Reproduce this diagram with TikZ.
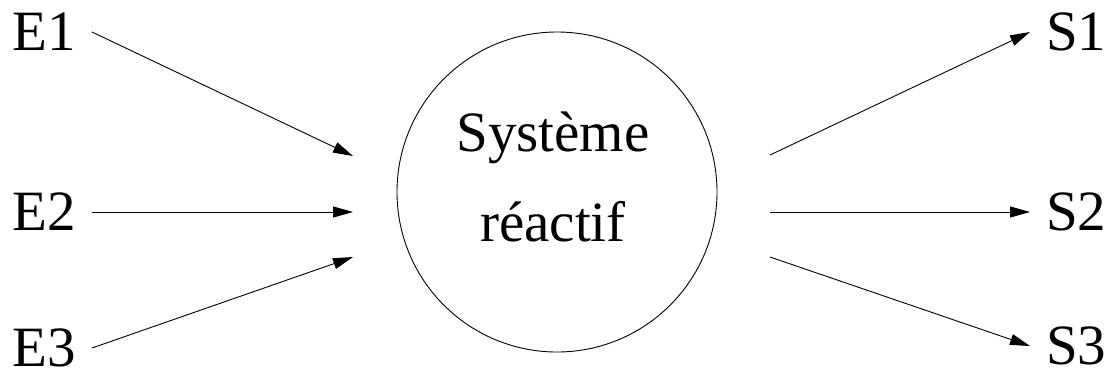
\documentclass[tikz,border=0pt]{standalone}
\usepackage{fontspec}
\setmainfont{Liberation Serif}
\usetikzlibrary{arrows.meta}
\begin{document}
\begin{tikzpicture}[x=1pt,y=-1pt,
  every node/.style={font=\fontsize{57}{90}\selectfont},
  lbl/.style={inner xsep=16pt,inner ysep=0pt},
  arr/.style={line width=0.9pt,-{Triangle[length=20pt,width=11pt]}}]
\useasboundingbox (0,0) rectangle (1115,378);
% System
\node[draw,circle,line width=0.9pt,minimum size=320pt,inner sep=0pt] (sys) at (557,192) {};
\node[align=center,inner sep=0pt] (sysname) at (553,177) {Système\\réactif};
% Inputs
\node[lbl,anchor=east] (e1) at (92,32) {E1};
\node[lbl,anchor=east] (e2) at (92,212) {E2};
\node[lbl,anchor=east] (e3) at (92,348) {E3};
\coordinate (in1) at (353,156);
\coordinate (in2) at (353,212);
\coordinate (in3) at (353,257);
\draw[arr] (e1.east) -- (in1);
\draw[arr] (e2.east) -- (in2);
\draw[arr] (e3.east) -- (in3);
% Outputs
\node[lbl,anchor=west] (s1) at (1030,32) {S1};
\node[lbl,anchor=west] (s2) at (1030,212) {S2};
\node[lbl,anchor=west] (s3) at (1030,346) {S3};
\coordinate (out1) at (770,155);
\coordinate (out2) at (770,212);
\coordinate (out3) at (770,257);
\draw[arr] (out1) -- (s1.west);
\draw[arr] (out2) -- (s2.west);
\draw[arr] (out3) -- (s3.west);
\end{tikzpicture}
\end{document}
